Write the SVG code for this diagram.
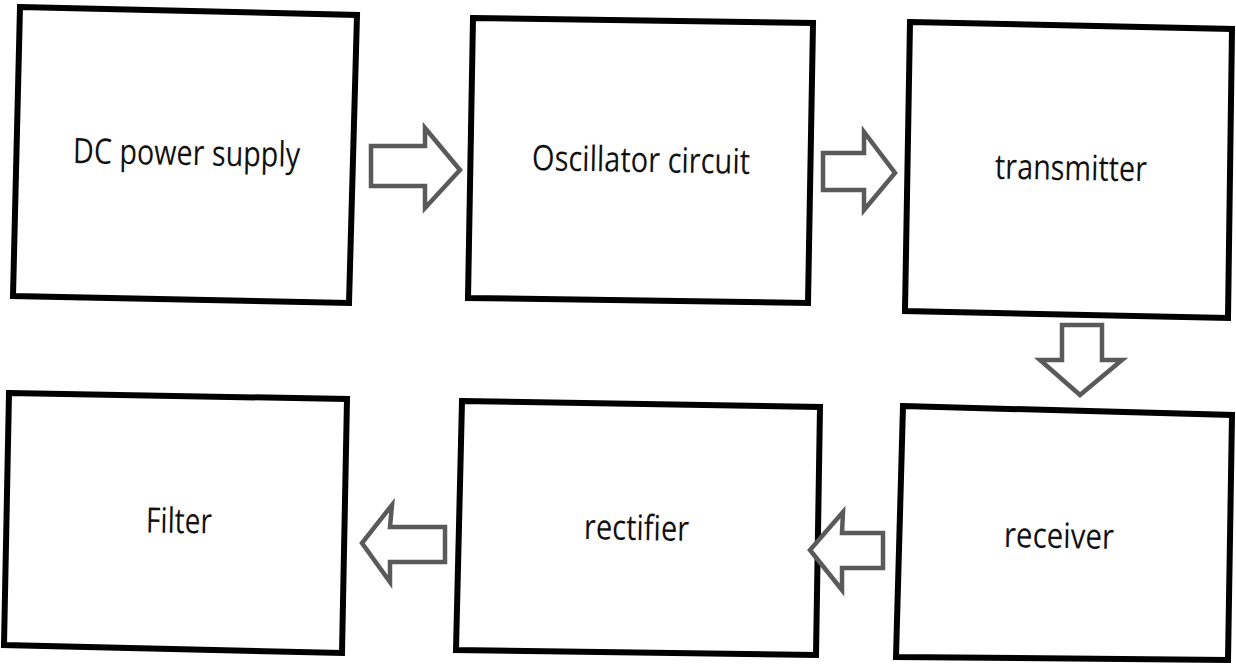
<svg xmlns="http://www.w3.org/2000/svg" width="1236" height="665" viewBox="0 0 1236 665">
<style>
.box{fill:#fff;stroke:#000;stroke-width:6;stroke-linejoin:miter}
.lbl{font-family:"Open Sans","Liberation Sans",sans-serif;font-size:35px;fill:#111}
.arr{fill:#fff;stroke:#5a5a5a;stroke-width:4.5;stroke-linejoin:miter}
</style>
<rect width="1236" height="665" fill="#fff"/>
<g id="dc">
<polygon class="box" points="20,7 357,15 349,303 13,296"/>
<text class="lbl" x="73" y="165" textLength="227" lengthAdjust="spacingAndGlyphs" transform="rotate(1 186 155)">DC power supply</text>
</g>
<g id="osc">
<polygon class="box" points="473,18 813,23 808,303 468,298"/>
<text class="lbl" x="532" y="172" textLength="218" lengthAdjust="spacingAndGlyphs" transform="rotate(1 641 162)">Oscillator circuit</text>
</g>
<g id="tx">
<polygon class="box" points="910,22 1232,29 1228,318 905,311"/>
<text class="lbl" x="995" y="180" textLength="152" lengthAdjust="spacingAndGlyphs" transform="rotate(1 1071 170)">transmitter</text>
</g>
<g id="filter">
<polygon class="box" points="9,393 347,399 342,653 4,645"/>
<text class="lbl" x="146" y="533" textLength="66" lengthAdjust="spacingAndGlyphs" transform="rotate(1 179 523)">Filter</text>
</g>
<g id="rect">
<polygon class="box" points="462,401 820,407 816,655 456,650"/>
<text class="lbl" x="584" y="540" textLength="105" lengthAdjust="spacingAndGlyphs" transform="rotate(1 636 530)">rectifier</text>
</g>
<g id="rx">
<polygon class="box" points="903,406 1232,415 1228,660 896,657"/>
<text class="lbl" x="1004" y="548" textLength="110" lengthAdjust="spacingAndGlyphs" transform="rotate(1 1059 538)">receiver</text>
</g>
<g id="connectors">
<polygon class="arr" points="371,146 425,146 425,128 460,170 425,208 425,186 371,186"/>
<polygon class="arr" points="823,153 864,153 864,132 895,173 864,210 864,190 823,190"/>
<polygon class="arr" points="1062,325 1102,325 1102,360 1122,360 1080,395 1040,360 1062,360"/>
<polygon class="arr" points="883,533 842,533 843,512 810,550 842,590 842,568 883,568"/>
<polygon class="arr" points="445,527 390,527 392,505 362,543 390,582 390,562 445,562"/>
</g>
</svg>
